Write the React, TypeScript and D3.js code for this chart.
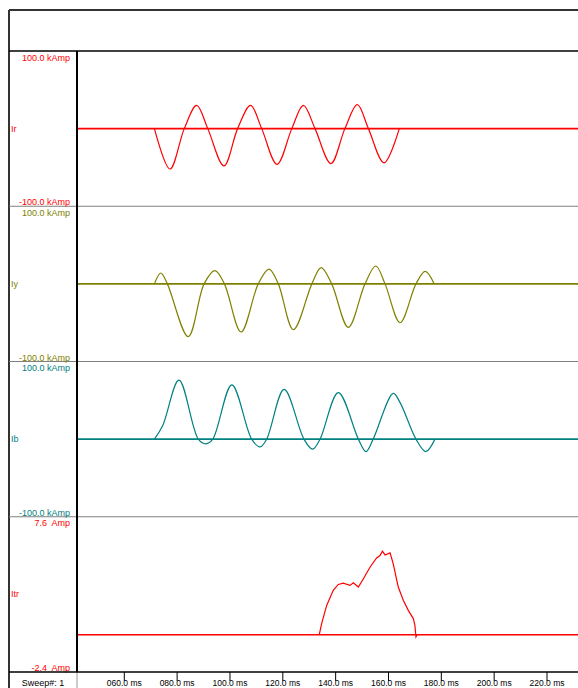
import React from "react";
import * as d3 from "d3";

// ---- data (time in ms, values in kA / A) ----
const tickTimes = [60, 80, 100, 120, 140, 160, 180, 200, 220];

const channelNames = ["Ir", "Iy", "Ib", "Itr"];
const channelColors = ["#ff0000", "#808000", "#008080", "#ff0000"];
const channelMax = [100, 100, 100, 7.6];
const channelMin = [-100, -100, -100, -2.4];
const channelTopLabels = ["100.0 kAmp", "100.0 kAmp", "100.0 kAmp", "7.6  Amp"];
const channelBottomLabels = ["-100.0 kAmp", "-100.0 kAmp", "-100.0 kAmp", "-2.4  Amp"];

const irTime = [71.4, 77.3, 82.7, 87.4, 91.6, 97.7, 102.9, 107.8, 112.0, 117.8, 123.4, 127.8, 132.2, 138.2, 143.5, 148.2, 152.4, 158.3, 164.1];
const irValue = [0, -52, 0, 30, 0, -48, 0, 30, 0, -46, 0, 30, 0, -45, 0, 31, 0, -44, 0];

const iyTime = [71.4, 73.8, 76.3, 84.2, 90.2, 94.3, 97.9, 104.2, 110.7, 114.8, 118.3, 124.0, 131.0, 134.5, 138.5, 144.8, 151.1, 155.2, 158.7, 164.4, 170.4, 173.9, 177.3];
const iyValue = [0, 14, 0, -68, 0, 17, 0, -62, 0, 19, 0, -59, 0, 21, 0, -56, 0, 23, 0, -50, 0, 16, 0];

const ibTime = [71.4, 74.6, 80.7, 88.0, 90.9, 93.5, 100.7, 108.2, 111.4, 113.9, 120.5, 128.0, 131.3, 134.1, 141.0, 148.6, 151.5, 154.2, 161.8, 164.4, 170.4, 174.1, 177.6];
const ibValue = [0, 18, 76, 0, -6, 0, 70, 0, -10, 0, 64, 0, -13, 0, 60, 0, -16, 0, 59, 47, 0, -16, 0];

const itrTime = [133.8, 134.7, 136.6, 139.1, 141.0, 142.9, 145.4, 146.7, 148.6, 150.5, 153.0, 155.5, 156.8, 157.7, 158.7, 160.6, 161.8, 163.7, 165.6, 167.5, 169.4, 170.0, 170.4, 170.8];
const itrValue = [0, 0.72, 1.89, 2.86, 3.24, 3.32, 3.18, 3.35, 3.07, 3.61, 4.35, 4.95, 5.10, 5.38, 5.14, 5.27, 4.57, 3.07, 2.22, 1.57, 1.04, 0.61, -0.14, 0];

const seriesTimes = [irTime, iyTime, ibTime, itrTime];
const seriesValues = [irValue, iyValue, ibValue, itrValue];

const W = 578;
const H = 688;
const FONT = "'Liberation Sans', Arial, sans-serif";

export default function App() {
  const left = 9;
  const labelCol = 77;
  const headerBottom = 51;
  const axisY = 672;

  const x = d3.scaleLinear().domain([60, 220]).range([124.3, 547]);
  const band = d3.scaleLinear().domain([0, 4]).range([headerBottom, axisY]);
  const fmt = d3.format("05.1f");

  const panels = channelNames.map((name, i) => {
    const top = band(i);
    const bottom = band(i + 1);
    const y = d3.scaleLinear().domain([channelMin[i], channelMax[i]]).range([bottom, top]);
    const data = seriesTimes[i].map((t, k) => [t, seriesValues[i][k]] as [number, number]);
    const gen = d3
      .line<[number, number]>()
      .x((d) => x(d[0]))
      .y((d) => y(d[1]))
      .curve(i === 3 ? d3.curveLinear : d3.curveCatmullRom.alpha(0.5));
    return { name, i, top, bottom, y, path: gen(data) || "" };
  });

  return (
    <svg width={W} height={H} style={{ position: "absolute", left: 0, top: 0, background: "#fff" }} fontFamily={FONT}>
      <rect x={0} y={0} width={W} height={H} fill="#fff" />
      {/* frame */}
      <line x1={left} x2={W} y1={10} y2={10} stroke="#333" strokeWidth={2} />
      <line x1={left} x2={left} y1={10} y2={H} stroke="#333" strokeWidth={2} />
      <line x1={left} x2={W} y1={headerBottom} y2={headerBottom} stroke="#000" strokeWidth={1.5} />
      {/* panel separators */}
      {[1, 2, 3].map((k) => (
        <line key={k} x1={left} x2={W} y1={band(k)} y2={band(k)} stroke="#808080" strokeWidth={1} />
      ))}
      {/* traces */}
      {panels.map((p) => (
        <g key={p.name}>
          <line
            x1={labelCol}
            x2={W}
            y1={p.y(0)}
            y2={p.y(0)}
            stroke={channelColors[p.i]}
            strokeWidth={1.6}
          />
          <path d={p.path} fill="none" stroke={channelColors[p.i]} strokeWidth={1.2} />
          <text x={70} y={p.top + 9.5} fontSize={9} fill={channelColors[p.i]} textAnchor="end" style={{ whiteSpace: "pre" }}>
            {channelTopLabels[p.i]}
          </text>
          <text x={70} y={p.bottom - 1} fontSize={9} fill={channelColors[p.i]} textAnchor="end" style={{ whiteSpace: "pre" }}>
            {channelBottomLabels[p.i]}
          </text>
          <text x={11} y={(p.top + p.bottom) / 2 + 3} fontSize={9} fill={channelColors[p.i]}>
            {p.name}
          </text>
        </g>
      ))}
      {/* label column divider */}
      <line x1={labelCol} x2={labelCol} y1={headerBottom} y2={axisY} stroke="#000" strokeWidth={2} />
      <line x1={labelCol} x2={labelCol} y1={axisY} y2={H} stroke="#999" strokeWidth={1} />
      {/* time axis */}
      <line x1={left} x2={W} y1={axisY} y2={axisY} stroke="#000" strokeWidth={1.5} />
      {tickTimes.map((t) => (
        <g key={t}>
          <line x1={x(t)} x2={x(t)} y1={axisY} y2={axisY + 9} stroke="#000" strokeWidth={1} />
          <text x={x(t)} y={686} fontSize={8.5} textAnchor="middle" fill="#000">
            {fmt(t) + " ms"}
          </text>
        </g>
      ))}
      <text x={43} y={686} fontSize={9} textAnchor="middle" fill="#000">
        Sweep#: 1
      </text>
    </svg>
  );
}
